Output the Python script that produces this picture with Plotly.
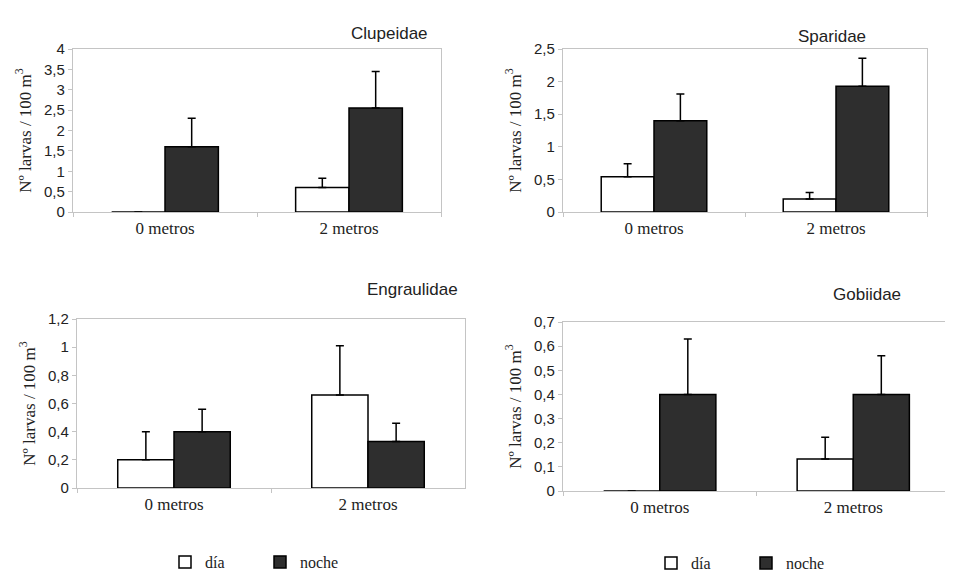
import plotly.graph_objects as go

categories = ["0 metros", "2 metros"]
series_names = ["día", "noche"]

titles = ["Clupeidae", "Sparidae", "Engraulidae", "Gobiidae"]

clupeidae_dia = [0.0, 0.6]
clupeidae_dia_err = [0.0, 0.23]
clupeidae_noche = [1.6, 2.55]
clupeidae_noche_err = [0.7, 0.9]

sparidae_dia = [0.54, 0.2]
sparidae_dia_err = [0.2, 0.1]
sparidae_noche = [1.4, 1.93]
sparidae_noche_err = [0.41, 0.43]

engraulidae_dia = [0.2, 0.66]
engraulidae_dia_err = [0.2, 0.35]
engraulidae_noche = [0.4, 0.33]
engraulidae_noche_err = [0.16, 0.13]

gobiidae_dia = [0.0, 0.133]
gobiidae_dia_err = [0.0, 0.09]
gobiidae_noche = [0.4, 0.4]
gobiidae_noche_err = [0.23, 0.16]

y_max = [4, 2.5, 1.2, 0.7]
y_dtick = [0.5, 0.5, 0.2, 0.1]

panels = [
    (clupeidae_dia, clupeidae_dia_err, clupeidae_noche, clupeidae_noche_err),
    (sparidae_dia, sparidae_dia_err, sparidae_noche, sparidae_noche_err),
    (engraulidae_dia, engraulidae_dia_err, engraulidae_noche, engraulidae_noche_err),
    (gobiidae_dia, gobiidae_dia_err, gobiidae_noche, gobiidae_noche_err),
]

# page body has an 8px margin: the figure starts at (8, 8) in the window
OFF = 8
W, H = 953 - OFF, 573 - OFF


def px(x):
    return (x - OFF) / W


def py(y):
    return 1 - (y - OFF) / H


# plot-area pixel boxes in window coordinates: (x0, x1, ytop, ybottom)
boxes = [(73, 441, 49, 212), (563, 927, 49, 212), (77, 465, 319, 488), (563, 950, 322, 491)]
title_pos = [(389, 22), (868, 25), (412, 289), (903, 294)]
legend_pos = [None, None, (260, 562), (746, 563)]

DARK = "#2e2e2e"
GRID = "#c4c4c4"
serif = "Times New Roman"
sans = "Liberation Sans"

fig = go.Figure()
layout = dict(
    width=W, height=H, margin=dict(l=0, r=0, t=0, b=0, autoexpand=False),
    paper_bgcolor="white", plot_bgcolor="white",
    separators=",.", barmode="group", bargap=0.42, bargroupgap=0,
    annotations=[], showlegend=True,
)

for i, (d, de, n, ne) in enumerate(panels):
    k = "" if i == 0 else str(i + 1)
    xa, ya = "x" + k, "y" + k
    leg = None
    if i == 2:
        leg = "legend"
    elif i == 3:
        leg = "legend2"
    for name, vals, errs, color in [(series_names[0], d, de, "white"), (series_names[1], n, ne, DARK)]:
        tr = go.Bar(
            x=categories, y=vals, name=name, xaxis=xa, yaxis=ya,
            marker=dict(color=color, line=dict(color="black", width=1.5)),
            error_y=dict(type="data", symmetric=False, array=errs,
                         arrayminus=[0] * len(errs), color="black", thickness=1.5, width=4),
            showlegend=leg is not None,
        )
        if leg:
            tr.legend = leg
        fig.add_trace(tr)
    x0, x1, yt, yb = boxes[i]
    layout["xaxis" + k] = dict(
        domain=[px(x0), px(x1)], anchor=ya, type="category", range=[-0.5, 1.5],
        showline=True, linecolor=GRID, linewidth=1.2, mirror=True,
        ticks="outside", tickson="boundaries", ticklen=4, tickcolor=GRID,
        tickfont=dict(family=serif, size=17, color="#222"), showgrid=False,
    )
    layout["yaxis" + k] = dict(
        domain=[py(yb), py(yt)], anchor=xa, range=[0, y_max[i]], dtick=y_dtick[i],
        showline=True, linecolor=GRID, linewidth=1.2, mirror=True,
        ticks="outside", ticklen=4, tickcolor=GRID, showgrid=False, zeroline=False,
        tickfont=dict(family=sans, size=15, color="#222"),
        title=dict(text="Nº larvas / 100 m<sup>3</sup>", font=dict(family=serif, size=17, color="#222"), standoff=8),
    )
    tx, ty = title_pos[i]
    layout["annotations"].append(dict(
        text=titles[i], x=px(tx), y=py(ty), xref="paper", yref="paper",
        showarrow=False, font=dict(family=sans, size=17, color="#222"),
    ))

for name, pos in [("legend", legend_pos[2]), ("legend2", legend_pos[3])]:
    lx, ly = pos
    layout[name] = dict(
        orientation="h", x=px(lx), y=py(ly), xanchor="center", yanchor="middle",
        font=dict(family=serif, size=16, color="#222"), bgcolor="rgba(0,0,0,0)",
        entrywidth=50, entrywidthmode="pixels",
    )

fig.update_layout(**layout)
fig.write_html("out.html")
